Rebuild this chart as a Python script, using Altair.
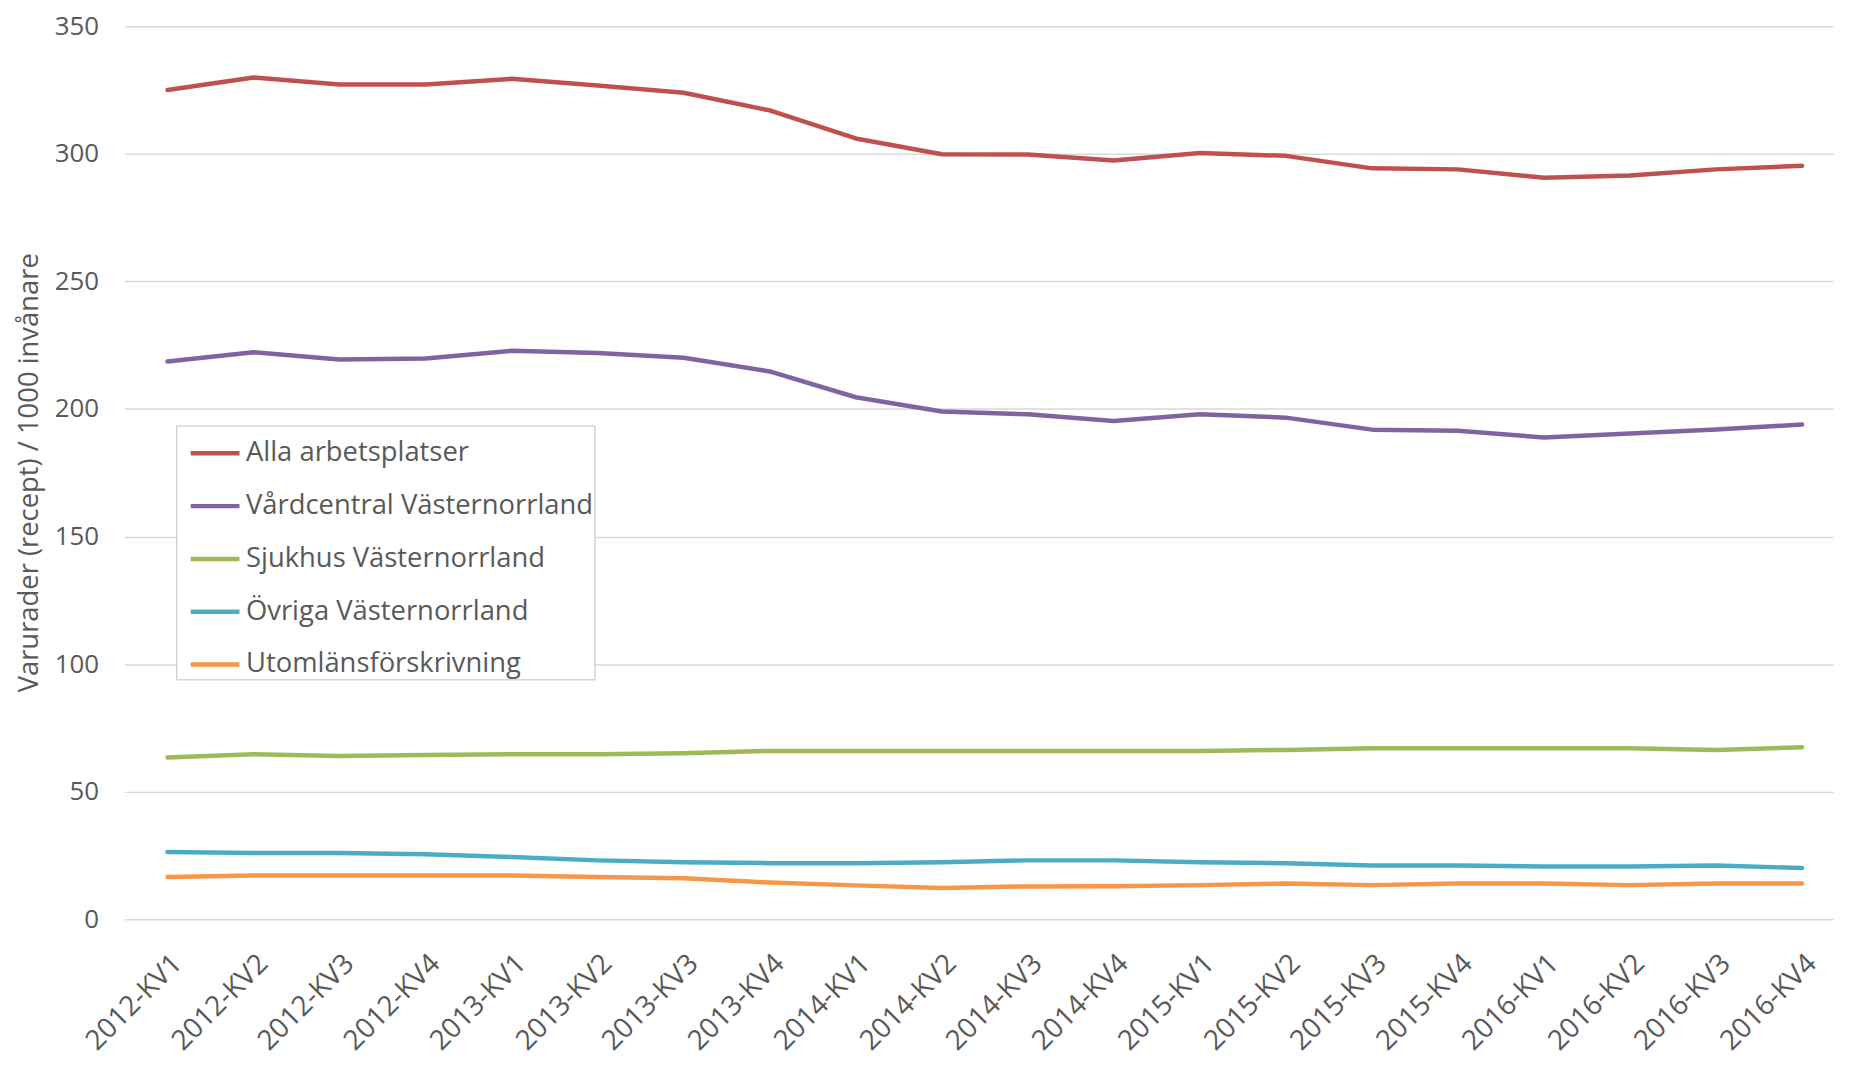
import altair as alt
import pandas as pd

quarters = ["2012-KV1", "2012-KV2", "2012-KV3", "2012-KV4",
            "2013-KV1", "2013-KV2", "2013-KV3", "2013-KV4",
            "2014-KV1", "2014-KV2", "2014-KV3", "2014-KV4",
            "2015-KV1", "2015-KV2", "2015-KV3", "2015-KV4",
            "2016-KV1", "2016-KV2", "2016-KV3", "2016-KV4"]

series_names = ["Alla arbetsplatser", "Vårdcentral Västernorrland",
                "Sjukhus Västernorrland", "Övriga Västernorrland",
                "Utomlänsförskrivning"]

alla = [325.0, 329.9, 327.2, 327.2, 329.4, 326.8, 323.9, 317.0, 306.0, 299.8,
        299.7, 297.4, 300.3, 299.2, 294.3, 293.9, 290.6, 291.5, 293.9, 295.3]
vardcentral = [218.6, 222.2, 219.4, 219.8, 222.8, 221.9, 220.1, 214.7, 204.6, 199.0,
               197.9, 195.3, 197.9, 196.6, 191.9, 191.5, 188.8, 190.4, 192.0, 193.9]
sjukhus = [63.4, 64.7, 64.0, 64.4, 64.7, 64.7, 65.1, 66.0, 66.0, 66.0,
           66.0, 66.0, 66.0, 66.4, 67.0, 67.0, 67.0, 67.0, 66.4, 67.4]
ovriga = [26.4, 26.0, 26.0, 25.5, 24.4, 23.1, 22.4, 22.0, 22.0, 22.4,
          23.1, 23.1, 22.4, 22.0, 21.1, 21.1, 20.7, 20.7, 21.1, 20.1]
utomlans = [16.6, 17.2, 17.2, 17.2, 17.2, 16.6, 16.1, 14.4, 13.3, 12.3,
            12.9, 13.0, 13.4, 14.0, 13.4, 14.0, 14.0, 13.4, 14.0, 14.0]

y_ticks = [0, 50, 100, 150, 200, 250, 300, 350]
colors = ["#C0504D", "#8064A2", "#9BBB59", "#4BACC6", "#F79646"]

values = [alla, vardcentral, sjukhus, ovriga, utomlans]
rows = []
for name, vals in zip(series_names, values):
    for i, (q, v) in enumerate(zip(quarters, vals)):
        rows.append({"idx": i, "Kvartal": q, "Serie": name, "Värde": v})
df = pd.DataFrame(rows)

FONT = "Open Sans"
TXT = "#595959"

label_array = "[" + ",".join("'" + q + "'" for q in quarters) + "]"

chart = alt.Chart(df).mark_line(strokeWidth=4.5, strokeCap="round", strokeJoin="round").encode(
    x=alt.X("idx:Q", title=None,
            scale=alt.Scale(domain=[-0.5, 19.36], nice=False, zero=False),
            axis=alt.Axis(values=list(range(len(quarters))),
                          labelExpr=label_array + "[datum.value]",
                          labelAngle=-45, labelAlign="right", labelBaseline="top",
                          labelPadding=30, ticks=False, domain=False, grid=False,
                          labelOverlap=False, labelFlush=False,
                          labelFont=FONT, labelFontSize=28, labelColor=TXT)),
    y=alt.Y("Värde:Q", title="Varurader (recept) / 1000 invånare",
            scale=alt.Scale(domain=[0, 350], nice=False),
            axis=alt.Axis(values=y_ticks,
                          ticks=False, domain=False, gridColor="#D9D9D9", gridWidth=1.5,
                          labelPadding=26, labelFont=FONT, labelFontSize=26, labelColor=TXT,
                          titleFont=FONT, titleFontSize=27.5, titleFontWeight="normal",
                          titleColor=TXT, titleAngle=-90, titleX=-95, titleY=448,
                          titleAlign="center", titleBaseline="middle")),
    color=alt.Color("Serie:N", sort=series_names,
                    scale=alt.Scale(domain=series_names, range=colors),
                    legend=alt.Legend(title=None, orient="none", legendX=52, legendY=401,
                                      symbolType="stroke", symbolSize=2401,
                                      symbolStrokeWidth=4.5, symbolOffset=11, labelOffset=4,
                                      labelFont=FONT, labelFontSize=27.5, labelColor=TXT,
                                      labelLimit=600, rowPadding=12, padding=1,
                                      strokeColor="#BFBFBF", fillColor="white")),
).properties(
    width=1716, height=897,
    autosize=alt.AutoSizeParams(type="none"),
    padding={"left": 117, "top": 16, "right": 8, "bottom": 140},
).configure_view(stroke=None)

chart.save("out.html", embed_options={"renderer": "svg", "actions": False})
